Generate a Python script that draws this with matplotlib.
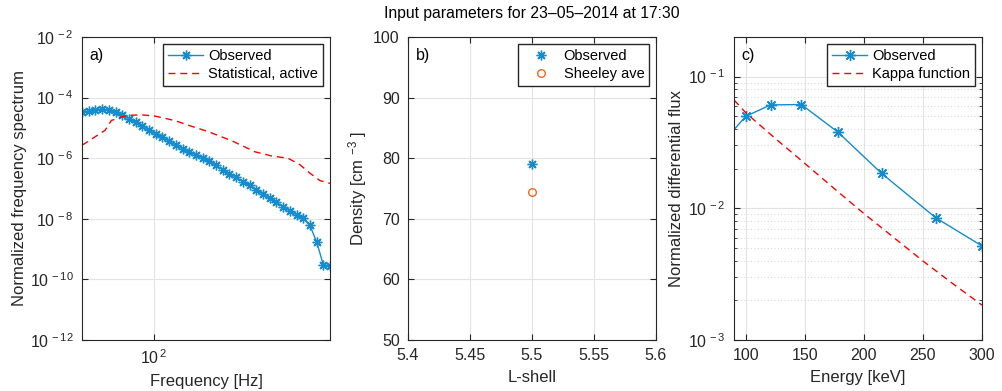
import matplotlib
matplotlib.use("Agg")
import matplotlib.pyplot as plt
import numpy as np
from matplotlib.ticker import FixedLocator, FuncFormatter, LogLocator, NullFormatter

# --- a) frequency spectrum -------------------------------------------------
freq_obs = [40.0, 43.6, 47.5, 51.7, 56.3, 61.4, 66.9, 72.8, 79.4, 86.4,
            94.2, 102.6, 111.8, 121.8, 132.6, 144.5, 157.4, 171.5, 186.8, 203.5,
            221.7, 241.5, 263.1, 286.6, 312.2, 340.1, 370.5, 403.7, 439.8, 479.1,
            521.9, 568.6, 619.4, 674.8, 735.1, 800.8, 872.4, 950.0]
log_spec_obs = [-4.48, -4.44, -4.40, -4.38, -4.42, -4.49, -4.58, -4.69, -4.82, -4.95,
                -5.08, -5.19, -5.31, -5.44, -5.57, -5.68, -5.79, -5.89, -5.99, -6.10,
                -6.24, -6.38, -6.51, -6.63, -6.77, -6.90, -7.04, -7.18, -7.32, -7.46,
                -7.60, -7.73, -7.86, -7.98, -8.22, -8.76, -9.52, -9.57]
freq_stat = [40.0, 41.6, 49.1, 53.7, 58.3, 61.8, 66.7, 75.8, 86.1, 101.7,
             131.2, 159.0, 200.0, 272.0, 365.0, 453.0, 556.0, 649.0, 737.0, 837.0, 950.0]
log_spec_stat = [-5.57, -5.51, -5.23, -5.08, -4.75, -4.71, -4.63, -4.58, -4.57, -4.61,
                 -4.76, -4.93, -5.12, -5.43, -5.79, -5.93, -6.00, -6.22, -6.50, -6.74, -6.83]

# --- b) density ----------------------------------------------------------
lshell = [5.5]
dens_obs = [79.0]
dens_sheeley = [74.5]

# --- c) energy spectrum ----------------------------------------------------
energy_obs = [75, 100, 121, 147, 178, 215, 261, 300]
flux_obs = [0.0278, 0.0500, 0.0610, 0.0614, 0.0379, 0.0184, 0.00845, 0.00518]
energy_kappa = [90, 100, 125, 150, 175, 200, 225, 250, 275, 300]
flux_kappa = [0.0665, 0.0531, 0.0339, 0.0219, 0.0141, 0.00912, 0.00603, 0.00398, 0.00269, 0.00184]

BLUE = "#148ccd"
ORANGE = "#ea6a22"
AXC = "#262626"
GRIDC = "#e3e3e3"

plt.rcParams.update({
    "font.family": ["Liberation Sans", "DejaVu Sans"],
    "font.size": 11,
    "xtick.labelsize": 11.5,
    "ytick.labelsize": 11.5,
    "axes.labelsize": 12,
    "legend.fontsize": 10.5,
    "mathtext.fontset": "custom",
    "mathtext.rm": "Liberation Sans",
    "mathtext.it": "Liberation Sans",
    "axes.edgecolor": AXC,
    "axes.labelcolor": AXC,
    "xtick.color": AXC,
    "ytick.color": AXC,
    "xtick.direction": "in",
    "ytick.direction": "in",
    "xtick.top": True,
    "ytick.right": True,
    "xtick.major.size": 4,
    "ytick.major.size": 4,
    "xtick.minor.size": 2,
    "ytick.minor.size": 2,
    "xtick.major.pad": 6,
    "ytick.major.pad": 6,
    "axes.labelpad": 5,
    "axes.linewidth": 0.8,
    "legend.fancybox": False,
    "legend.edgecolor": AXC,
    "legend.framealpha": 1.0,
})

star = (8, 2, 0)


def pow10(v, pos):
    if v <= 0:
        return ""
    return r"$10^{\,%d}$" % int(round(np.log10(v)))


def legend(ax):
    ax.legend(loc="upper right", borderaxespad=0.45, handlelength=2.4,
              handletextpad=0.35, labelspacing=0.3, borderpad=0.35)


fig = plt.figure(figsize=(10.03, 3.91), dpi=100)
ax_a = fig.add_axes([82 / 1003, 51 / 391, 248 / 1003, 303 / 391])
ax_b = fig.add_axes([408 / 1003, 51 / 391, 248 / 1003, 303 / 391])
ax_c = fig.add_axes([734 / 1003, 51 / 391, 248 / 1003, 303 / 391])

# panel a
ax_a.plot(freq_obs, 10.0 ** np.array(log_spec_obs), color=BLUE, lw=1.0,
          marker=star, ms=7, mew=1.0, label="Observed")
ax_a.plot(freq_stat, 10.0 ** np.array(log_spec_stat), color="red", lw=1.0,
          ls=(0, (5, 3.5)), label="Statistical, active")
ax_a.set_xscale("log")
ax_a.set_yscale("log")
ax_a.set_xlim(40, 950)
ax_a.set_ylim(1e-12, 1e-2)
ax_a.xaxis.set_major_locator(FixedLocator([100]))
ax_a.xaxis.set_minor_locator(FixedLocator([]))
ax_a.xaxis.set_major_formatter(FuncFormatter(pow10))
ax_a.yaxis.set_major_locator(FixedLocator([1e-12, 1e-10, 1e-8, 1e-6, 1e-4, 1e-2]))
ax_a.yaxis.set_minor_locator(FixedLocator([]))
ax_a.yaxis.set_major_formatter(FuncFormatter(pow10))
ax_a.set_xlabel("Frequency [Hz]")
ax_a.set_ylabel("Normalized frequency spectrum", labelpad=2)
ax_a.grid(True, color=GRIDC, lw=0.8)
ax_a.set_axisbelow(True)
legend(ax_a)
ax_a.text(0.03, 0.94, "a)", transform=ax_a.transAxes, va="center", ha="left", fontsize=11.5)

# panel b
ax_b.plot(lshell, dens_obs, ls="none", marker=star, ms=7, mew=1.0, color=BLUE,
          label="Observed")
ax_b.plot(lshell, dens_sheeley, ls="none", marker="o", ms=5.5, mew=1.0,
          mfc="none", mec=ORANGE, label="Sheeley ave")
ax_b.set_xlim(5.4, 5.6)
ax_b.set_ylim(50, 100)
ax_b.set_xticks([5.4, 5.45, 5.5, 5.55, 5.6])
ax_b.set_xticklabels(["5.4", "5.45", "5.5", "5.55", "5.6"])
ax_b.set_yticks([50, 60, 70, 80, 90, 100])
ax_b.set_xlabel("L-shell")
ax_b.set_ylabel(r"Density [cm $^{-3}$ ]", labelpad=3)
ax_b.grid(True, color=GRIDC, lw=0.8)
ax_b.set_axisbelow(True)
legend(ax_b)
ax_b.text(0.03, 0.94, "b)", transform=ax_b.transAxes, va="center", ha="left", fontsize=11.5)
ax_b.set_title("Input parameters for 23\u201305\u20132014 at 17:30", fontsize=11.3, pad=14)

# panel c
ax_c.plot(energy_obs, flux_obs, color=BLUE, lw=1.0, marker=star, ms=8, mew=1.0,
          label="Observed")
ax_c.plot(energy_kappa, flux_kappa, color="red", lw=1.0, ls=(0, (5, 3.5)),
          label="Kappa function")
ax_c.set_yscale("log")
ax_c.set_xlim(90, 300)
ax_c.set_ylim(1e-3, 0.2)
ax_c.set_xticks([100, 150, 200, 250, 300])
ax_c.yaxis.set_major_locator(FixedLocator([1e-3, 1e-2, 1e-1]))
ax_c.yaxis.set_minor_locator(LogLocator(base=10, subs=np.arange(2, 10)))
ax_c.yaxis.set_minor_formatter(NullFormatter())
ax_c.yaxis.set_major_formatter(FuncFormatter(pow10))
ax_c.set_xlabel("Energy [keV]")
ax_c.set_ylabel("Normalized differential flux", labelpad=3)
ax_c.grid(True, which="major", color=GRIDC, lw=0.8)
ax_c.grid(True, which="minor", axis="y", color="#c8c8c8", lw=0.6, ls=(0, (1, 3)))
ax_c.set_axisbelow(True)
legend(ax_c)
ax_c.text(0.03, 0.94, "c)", transform=ax_c.transAxes, va="center", ha="left", fontsize=11.5)

fig.savefig("out.png", dpi=100)
plt.close(fig)
